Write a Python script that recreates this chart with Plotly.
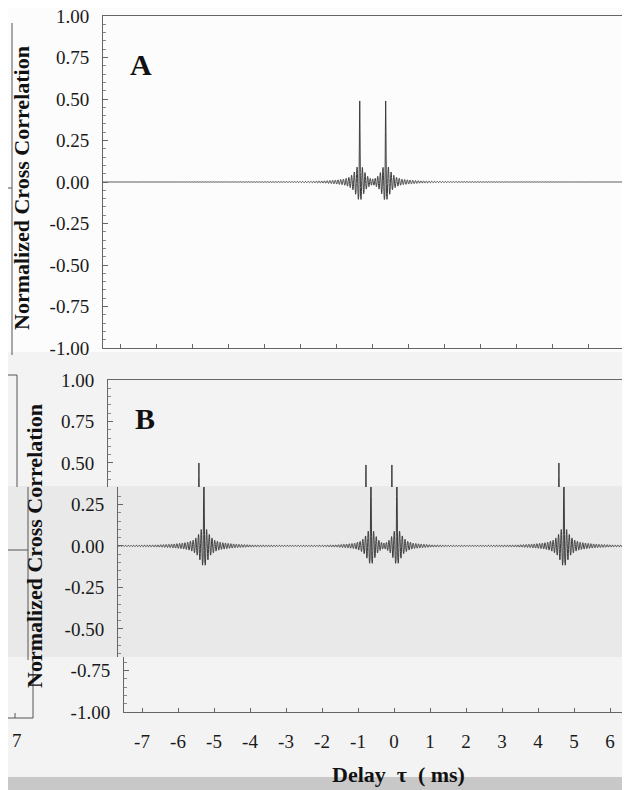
import numpy as np
import plotly.graph_objects as go

W, H = 630, 790
OFF = 8  # the page draws the figure 8 px in from the window's top-left corner

# ---- values ----
ripple_period_ms = 0.075                      # period of the fine ripple
env_offset_ms = [0.0, 0.03, 0.11, 0.19, 0.30, 0.45, 0.65, 0.95, 1.40, 2.20, 3.50, 8.00]
env_rel_amp   = [1.0, 0.24, 0.17, 0.11, 0.07, 0.045, 0.032, 0.02, 0.011, 0.006, 0.003, 0.001]

a_peak_delay  = [-0.36, 0.36]
a_peak_height = [0.50, 0.50]

b_peak_delay  = [-5.28, -0.64, 0.08, 4.72]
b_peak_height = [0.50, 0.50, 0.50, 0.50]

y_ticks = [-1.0, -0.75, -0.5, -0.25, 0.0, 0.25, 0.5, 0.75, 1.0]
y_tick_text = ["-1.00", "-0.75", "-0.50", "-0.25", "0.00", "0.25", "0.50", "0.75", "1.00"]
a_x_ticks = list(range(-7, 8))
b_x_ticks = list(range(-7, 7))
b_x_tick_text = [str(v) for v in b_x_ticks]

DX = 0.004


def correlation(delays, heights, lo, hi):
    x = np.arange(int(np.floor(lo / DX)), int(np.ceil(hi / DX)) + 1) * DX
    y = np.zeros_like(x)
    for p, h in zip(delays, heights):
        d = x - p
        env = np.interp(np.abs(d), env_offset_ms, env_rel_amp)
        y += h * env * np.cos(2 * np.pi * d / ripple_period_ms)
    return x, y


xa, ya = correlation(a_peak_delay, a_peak_height, -7.6, 7.4)
xb, yb = correlation(b_peak_delay, b_peak_height, -8.0, 7.0)


# screen pixel -> paper fraction
def px(x):
    return (x - OFF) / W


def py(y):
    return 1 - (y - OFF) / H


RIGHT = OFF + W  # screen x of the paper's right edge

LINE = dict(color="#3c3c3c", width=1, simplify=False)
AX = "#666666"
TFONT = dict(family="Liberation Serif", size=19, color="#1a1a1a")

fig = go.Figure()
fig.add_trace(go.Scatter(x=xa, y=ya, mode="lines", line=LINE, xaxis="x", yaxis="y",
                         hoverinfo="skip", showlegend=False))
for k in ("2", "3", "4"):
    fig.add_trace(go.Scatter(x=xb, y=yb, mode="lines", line=LINE, xaxis="x" + k, yaxis="y" + k,
                             hoverinfo="skip", showlegend=False))

minor = dict(ticks="inside", ticklen=3, tickcolor="#888888", tickmode="linear", tick0=0, dtick=0.05,
             showgrid=False)


def yax(domain, rng, anchor):
    vals = [v for v in y_ticks if rng[0] - 1e-9 <= v <= rng[1] + 1e-9]
    txt = [y_tick_text[y_ticks.index(v)] for v in vals]
    return dict(domain=domain, range=rng, anchor=anchor, showline=True, linecolor=AX, linewidth=1,
                ticks="inside", ticklen=5, tickcolor=AX, tickvals=vals, ticktext=txt,
                tickfont=TFONT, ticklabelstandoff=9, ticklabeloverflow="allow", minor=minor,
                showgrid=False, zeroline=False, fixedrange=True)


# panel A  (0 ms at screen x 372.7, 36 px per ms)
fig.update_layout(
    xaxis=dict(domain=[px(103), 1], range=[(103 - 372.7) / 36, (RIGHT - 372.7) / 36], anchor="y",
               showline=True, mirror=True, linecolor=AX, linewidth=1, ticks="inside", ticklen=4,
               tickcolor=AX, tickvals=a_x_ticks, showticklabels=False, showgrid=False, zeroline=False),
    yaxis=yax([py(348), py(16)], [-1, 1], "x"),
    # panel B, drawn as the three shifted horizontal bands of the frame
    xaxis2=dict(domain=[px(108), 1], range=[(108 - 389) / 36, (RIGHT - 389) / 36], anchor="y2",
                side="top", showline=True, linecolor=AX, linewidth=1, ticks="", showticklabels=False,
                showgrid=False, zeroline=False),
    yaxis2=yax([py(487), py(380)], [0.355, 1.0], "x2"),
    xaxis3=dict(domain=[px(118), 1], range=[(118 - 394) / 36, (RIGHT - 394) / 36], anchor="y3",
                visible=False),
    yaxis3=yax([py(657), py(487)], [-0.669, 0.355], "x3"),
    xaxis4=dict(domain=[px(124), 1], range=[(124 - 394) / 36, (RIGHT - 394) / 36], anchor="y4",
                showline=True, linecolor=AX, linewidth=1, ticks="inside", ticklen=4, tickcolor=AX,
                tickvals=b_x_ticks, ticktext=b_x_tick_text, tickfont=TFONT, ticklabelstandoff=12,
                showgrid=False, zeroline=False),
    yaxis4=yax([py(712), py(657)], [-1.0, -0.669], "x4"),
)


def rect(x0, y0, x1, y1, color, layer="below"):
    return dict(type="rect", xref="paper", yref="paper", x0=px(x0), x1=px(x1), y0=py(y1), y1=py(y0),
                fillcolor=color, line=dict(width=0), layer=layer)


def seg(x0, y0, x1, y1, color="#555555", width=1):
    return dict(type="line", xref="paper", yref="paper", x0=px(x0), x1=px(x1), y0=py(y0), y1=py(y1),
                line=dict(color=color, width=width), layer="above")


shapes = [
    rect(OFF, OFF, RIGHT, 352, "#fcfcfc"),
    rect(OFF, 486, RIGHT, 657, "#e9e9e9"),
    seg(12, 23, 12, 355), seg(8, 188, 12, 188),
    seg(8, 375, 17, 375), seg(17, 375, 17, 487),
    seg(8, 550, 28, 550), seg(28, 487, 28, 660),
    seg(33, 660, 33, 718), seg(8, 718, 33, 718), seg(15, 713, 15, 718),
    rect(OFF, 777, RIGHT, OFF + H, "#c8c8c8", layer="above"),
]

TITLE = dict(family="Liberation Serif", size=22, color="#111111")
ann = [
    dict(text="<b>Normalized Cross Correlation</b>", x=px(21), y=py(188), textangle=-90, font=TITLE),
    dict(text="<b>Normalized Cross Correlation</b>", x=px(34), y=py(546), textangle=-90, font=TITLE),
    dict(text="<b>A</b>", x=px(141), y=py(64), font=dict(family="Liberation Serif", size=30, color="#111111")),
    dict(text="<b>B</b>", x=px(145), y=py(418), font=dict(family="Liberation Serif", size=30, color="#111111")),
    dict(text="<b>Delay  \u03c4  ( ms)</b>", x=px(398), y=py(789), yanchor="bottom", font=TITLE),
    dict(text="7", x=px(17), y=py(740), font=TFONT),
]
for a in ann:
    a.setdefault("yanchor", "middle")
    a.update(xref="paper", yref="paper", showarrow=False, xanchor="center")

fig.update_layout(width=W, height=H,
                  margin=dict(l=0, r=0, t=0, b=0, pad=0, autoexpand=False),
                  paper_bgcolor="#f3f3f3", plot_bgcolor="rgba(0,0,0,0)",
                  shapes=shapes, annotations=ann, showlegend=False)

fig.write_html("out.html")
